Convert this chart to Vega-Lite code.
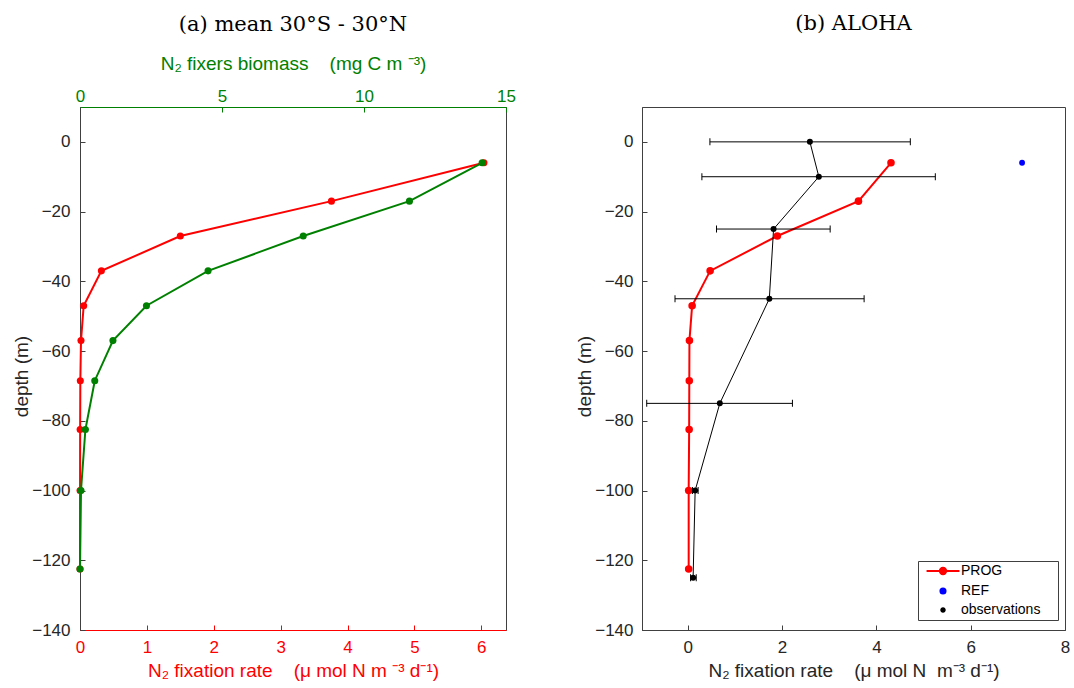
{
  "$schema": "https://vega.github.io/schema/vega-lite/v6.json",
  "background": "white",
  "padding": {"left": 12, "top": 12, "right": 4, "bottom": 0},
  "bounds": "flush",
  "spacing": 136,
  "resolve": {
    "scale": {"fill": "independent", "stroke": "independent", "shape": "independent", "size": "independent"},
    "legend": {"fill": "independent", "stroke": "independent", "shape": "independent", "size": "independent"}
  },
  "datasets": {
    "left": [
      {"depth": -6, "rate": 6.04, "biomass": 14.16},
      {"depth": -17, "rate": 3.76, "biomass": 11.6},
      {"depth": -27, "rate": 1.5, "biomass": 7.86},
      {"depth": -37, "rate": 0.32, "biomass": 4.51},
      {"depth": -47, "rate": 0.055, "biomass": 2.34},
      {"depth": -57, "rate": 0.015, "biomass": 1.16},
      {"depth": -68.5, "rate": 0.005, "biomass": 0.52},
      {"depth": -82.5, "rate": 0.002, "biomass": 0.19},
      {"depth": -100, "rate": 0.001, "biomass": 0.035},
      {"depth": -122.5, "rate": 0.0, "biomass": 0.0}
    ],
    "prog": [
      {"series": "PROG", "depth": -6, "rate": 4.31},
      {"series": "PROG", "depth": -17, "rate": 3.62},
      {"series": "PROG", "depth": -27, "rate": 1.9},
      {"series": "PROG", "depth": -37, "rate": 0.475},
      {"series": "PROG", "depth": -47, "rate": 0.093},
      {"series": "PROG", "depth": -57, "rate": 0.036},
      {"series": "PROG", "depth": -68.5, "rate": 0.033},
      {"series": "PROG", "depth": -82.5, "rate": 0.03},
      {"series": "PROG", "depth": -100, "rate": 0.02},
      {"series": "PROG", "depth": -122.5, "rate": 0.02}
    ],
    "ref": [
      {"series": "REF", "depth": -6, "rate": 7.09}
    ],
    "obs": [
      {"series": "observations", "depth": 0, "rate": 2.59, "lo": 0.47, "hi": 4.72},
      {"series": "observations", "depth": -10, "rate": 2.78, "lo": 0.3, "hi": 5.25},
      {"series": "observations", "depth": -25, "rate": 1.82, "lo": 0.61, "hi": 3.02},
      {"series": "observations", "depth": -45, "rate": 1.73, "lo": -0.27, "hi": 3.74},
      {"series": "observations", "depth": -75, "rate": 0.68, "lo": -0.87, "hi": 2.22},
      {"series": "observations", "depth": -100, "rate": 0.157, "lo": 0.1, "hi": 0.22},
      {"series": "observations", "depth": -125, "rate": 0.114, "lo": 0.06, "hi": 0.18}
    ]
  },
  "config": {
    "font": "Liberation Sans",
    "view": {"stroke": "#404040", "strokeWidth": 1},
    "axis": {
      "grid": false,
      "labelFont": "Liberation Sans",
      "labelFontSize": 17,
      "labelColor": "#262626",
      "labelFlush": false,
      "titleFont": "Liberation Sans",
      "titleFontSize": 19,
      "titleFontWeight": "normal",
      "titleColor": "#262626",
      "domainColor": "#404040",
      "tickColor": "#404040",
      "tickSize": -5
    },
    "title": {"font": "DejaVu Serif", "fontSize": 21, "fontWeight": "normal", "color": "#000000", "frame": "group", "anchor": "middle"},
    "legend": {"labelFont": "Liberation Sans"}
  },
  "hconcat": [
    {
      "width": 426,
      "height": 523,
      "title": {"text": "(a) mean 30°S - 30°N", "offset": 19},
      "data": {"name": "left"},
      "encoding": {
        "y": {"field": "depth", "type": "quantitative",
          "scale": {"domain": [-140, 10], "nice": false, "zero": false},
          "axis": {"values": [-140, -120, -100, -80, -60, -40, -20, 0], "title": "depth (m)", "titlePadding": 0, "titleY": 269, "labelPadding": 15}}
      },
      "layer": [
        {
          "data": {"values": [{}]},
          "mark": {"type": "rule", "color": "#a8a8a8", "strokeDash": [1.5, 2.5], "strokeWidth": 1},
          "encoding": {"y": {"datum": 0, "type": "quantitative"}}
        },
        {
          "mark": {"type": "line", "color": "#ff0000", "strokeWidth": 2,
            "point": {"filled": true, "size": 50, "color": "#ff0000"}},
          "encoding": {
            "x": {"field": "rate", "type": "quantitative",
              "scale": {"domain": [0, 6.37], "nice": false, "zero": false},
              "axis": {"orient": "bottom", "values": [0, 1, 2, 3, 4, 5, 6],
                "title": "N₂ fixation rate\u00a0\u00a0\u00a0\u00a0(μ mol N m\u00a0⁻³ d⁻¹)",
                "titleColor": "#ff0000", "labelColor": "#ff0000", "domainColor": "#ff0000", "tickColor": "#ff0000",
                "labelPadding": 14, "titlePadding": 6}},
            "order": {"field": "depth", "sort": "descending"}
          }
        },
        {
          "mark": {"type": "line", "color": "#008000", "strokeWidth": 2,
            "point": {"filled": true, "size": 50, "color": "#008000"}},
          "encoding": {
            "x": {"field": "biomass", "type": "quantitative",
              "scale": {"domain": [0, 15], "nice": false, "zero": false},
              "axis": {"orient": "top", "values": [0, 5, 10, 15],
                "title": "N₂ fixers biomass\u00a0\u00a0\u00a0\u00a0(mg C m\u00a0⁻³)",
                "titleColor": "#008000", "labelColor": "#008000", "domainColor": "#008000", "tickColor": "#008000",
                "labelPadding": 7, "titlePadding": 14}},
            "order": {"field": "depth", "sort": "descending"}
          }
        }
      ],
      "resolve": {"scale": {"x": "independent"}, "axis": {"x": "independent"}}
    },
    {
      "width": 423,
      "height": 523,
      "title": {"text": "(b) ALOHA", "offset": 73},
      "encoding": {
        "y": {"field": "depth", "type": "quantitative",
          "scale": {"domain": [-140, 10], "nice": false, "zero": false},
          "axis": {"values": [-140, -120, -100, -80, -60, -40, -20, 0], "title": "depth (m)", "titlePadding": 0, "titleY": 269, "labelPadding": 14}}
      },
      "layer": [
        {
          "data": {"values": [{}]},
          "mark": {"type": "rule", "color": "#a8a8a8", "strokeDash": [1.5, 2.5], "strokeWidth": 1},
          "encoding": {"y": {"datum": 0, "type": "quantitative"}}
        },
        {
          "data": {"name": "prog"},
          "mark": {"type": "line", "color": "#ff0000", "strokeWidth": 2,
            "point": {"filled": true, "size": 57, "color": "#ff0000"}},
          "encoding": {
            "x": {"field": "rate", "type": "quantitative",
              "scale": {"domain": [-0.97, 8], "nice": false, "zero": false},
              "axis": {"values": [0, 2, 4, 6, 8],
                "title": "N₂ fixation rate\u00a0\u00a0\u00a0\u00a0(μ mol N\u00a0\u00a0m⁻³ d⁻¹)",
                "labelPadding": 14, "titlePadding": 6}},
            "order": {"field": "depth", "sort": "descending"}
          }
        },
        {
          "data": {"name": "ref"},
          "mark": {"type": "point", "filled": true, "size": 34, "color": "#0000ff", "opacity": 1},
          "encoding": {
            "x": {"field": "rate", "type": "quantitative", "scale": {"domain": [-0.97, 8], "nice": false, "zero": false}}
          }
        },
        {
          "data": {"name": "obs"},
          "mark": {"type": "rule", "color": "#000000", "strokeWidth": 1},
          "encoding": {
            "x": {"field": "lo", "type": "quantitative", "scale": {"domain": [-0.97, 8], "nice": false, "zero": false}},
            "x2": {"field": "hi"}
          }
        },
        {
          "data": {"name": "obs"},
          "mark": {"type": "tick", "orient": "vertical", "color": "#000000", "size": 7, "thickness": 1, "opacity": 1},
          "encoding": {
            "x": {"field": "lo", "type": "quantitative", "scale": {"domain": [-0.97, 8], "nice": false, "zero": false}}
          }
        },
        {
          "data": {"name": "obs"},
          "mark": {"type": "tick", "orient": "vertical", "color": "#000000", "size": 7, "thickness": 1, "opacity": 1},
          "encoding": {
            "x": {"field": "hi", "type": "quantitative", "scale": {"domain": [-0.97, 8], "nice": false, "zero": false}}
          }
        },
        {
          "data": {"name": "obs"},
          "mark": {"type": "line", "color": "#000000", "strokeWidth": 1,
            "point": {"filled": true, "size": 36, "color": "#000000"}},
          "encoding": {
            "x": {"field": "rate", "type": "quantitative", "scale": {"domain": [-0.97, 8], "nice": false, "zero": false}},
            "order": {"field": "depth", "sort": "descending"}
          }
        },
        {
          "data": {"name": "prog"},
          "transform": [{"filter": "false"}],
          "mark": {"type": "point", "filled": true, "strokeWidth": 2, "opacity": 1},
          "encoding": {
            "x": {"field": "rate", "type": "quantitative", "scale": {"domain": [-0.97, 8], "nice": false, "zero": false}},
            "fill": {"field": "series", "type": "nominal",
              "scale": {"domain": ["PROG", "REF", "observations"], "range": ["#ff0000", "#0000ff", "#000000"]},
              "legend": {"title": null, "orient": "none", "legendX": 276, "legendY": 454,
                "strokeColor": "#404040", "fillColor": "#ffffff", "padding": 3,
                "labelFontSize": 14, "labelColor": "#000000", "rowPadding": 5,
                "symbolOffset": 15, "labelOffset": 11, "symbolStrokeWidth": 2,
                "labelExpr": "datum.label + '\u00a0\u2800'"}},
            "stroke": {"field": "series", "type": "nominal",
              "scale": {"domain": ["PROG", "REF", "observations"], "range": ["#ff0000", "#0000ff", "#000000"]}},
            "shape": {"field": "series", "type": "nominal",
              "scale": {"domain": ["PROG", "REF", "observations"], "range": ["M-5.2,0L5.2,0M1,0A1,1,0,1,1,-1,0A1,1,0,1,1,1,0Z", "circle", "circle"]}},
            "size": {"field": "series", "type": "nominal",
              "scale": {"domain": ["PROG", "REF", "observations"], "range": [40, 12, 12]}}
          }
        }
      ]
    }
  ]
}
